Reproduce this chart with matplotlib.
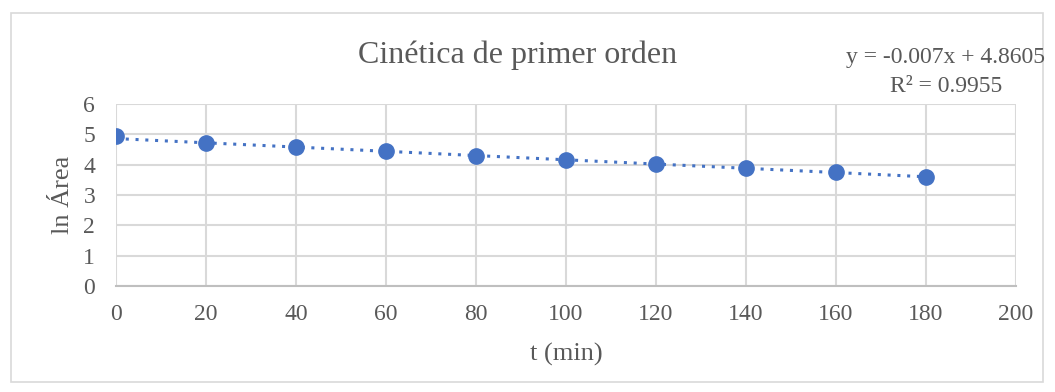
import matplotlib.pyplot as plt
import matplotlib
from matplotlib.patches import Rectangle

matplotlib.rcParams['font.family'] = ['Liberation Serif', 'DejaVu Serif']

# Data
t_min = [0, 20, 40, 60, 80, 100, 120, 140, 160, 180]
ln_area = [4.93, 4.71, 4.58, 4.45, 4.29, 4.15, 4.03, 3.90, 3.76, 3.60]
slope = -0.007
intercept = 4.8605
x_ticks = [0, 20, 40, 60, 80, 100, 120, 140, 160, 180, 200]
y_ticks = [0, 1, 2, 3, 4, 5, 6]

text_col = '#595959'
blue = '#4472C4'
grid_col = '#d9d9d9'

fig = plt.figure(figsize=(10.55, 3.92), dpi=100)
fig.patches.append(Rectangle((11/1055, 1-382/392), 1032/1055, 369/392,
                             transform=fig.transFigure, fill=False,
                             edgecolor='#d9d9d9', linewidth=1.2))

ax = fig.add_axes([116/1055, 1-286/392, 900/1055, 182/392])

# trendline
tx = [t_min[0], t_min[-1]]
ty = [slope * v + intercept for v in tx]
ax.plot(tx, ty, linestyle=(0, (1, 2.2)), color=blue, linewidth=2.2, zorder=3)
ax.plot(t_min, ln_area, 'o', color=blue, markersize=11, zorder=4)

ax.set_xlim(0, 200)
ax.set_ylim(0, 6)
ax.set_xticks(x_ticks)
ax.set_yticks(y_ticks)
ax.grid(True, color=grid_col, linewidth=1.5)
ax.set_axisbelow(True)
for s in ['top', 'right', 'left']:
    ax.spines[s].set_visible(False)
ax.spines['bottom'].set_color('#bfbfbf')
ax.spines['bottom'].set_linewidth(1.5)
ax.tick_params(length=0, labelsize=17, labelcolor=text_col)
ax.tick_params(axis='x', pad=13)
ax.tick_params(axis='y', pad=15)

ax.set_xlabel('t (min)', fontsize=19, color=text_col, labelpad=13)
ax.set_ylabel('ln Área', fontsize=19, color=text_col, labelpad=7)

fig.text(518/1055, 1-55/392, 'Cinética de primer orden', fontsize=23,
         color=text_col, ha='center', va='center')
fig.text(946/1055, 1-57/392, 'y = -0.007x + 4.8605', fontsize=17,
         color=text_col, ha='center', va='center')
fig.text(946/1055, 1-87/392, 'R² = 0.9955', fontsize=17,
         color=text_col, ha='center', va='center')

plt.savefig('out.png', dpi=100)
